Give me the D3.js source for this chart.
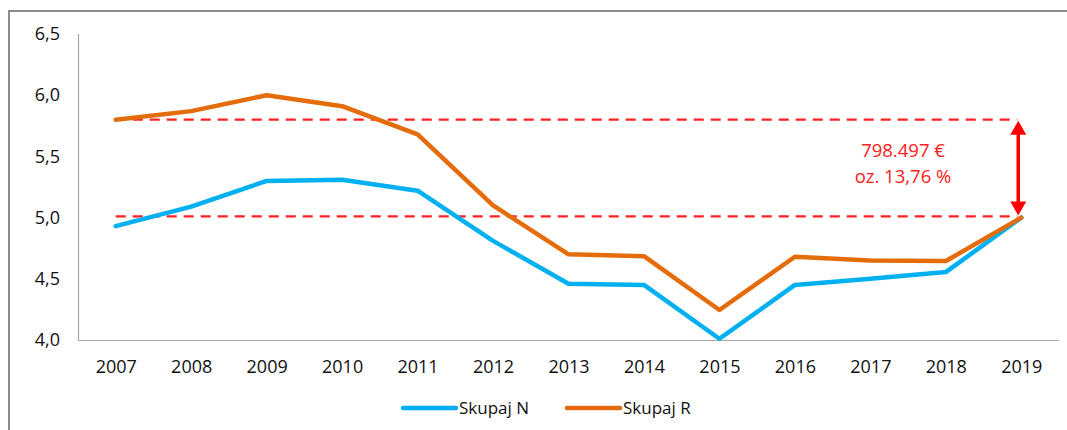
<!DOCTYPE html>
<html>
<head>
<meta charset="utf-8">
<script src="https://cdn.jsdelivr.net/npm/d3@7"></script>
<style>
  body { margin: 0; background: #fff; }
  text { font-family: "Open Sans", "Noto Sans", sans-serif; }
</style>
</head>
<body>
<svg id="chart" width="1067" height="430"></svg>
<script>
"use strict";

/* ── Data ─────────────────────────────────────────── */
const years    = ["2007","2008","2009","2010","2011","2012","2013","2014","2015","2016","2017","2018","2019"];
const skupajN  = [4.93, 5.09, 5.30, 5.31, 5.22, 4.81, 4.46, 4.45, 4.01, 4.45, 4.50, 4.555, 5.00];
const skupajR  = [5.80, 5.87, 6.00, 5.91, 5.68, 5.10, 4.70, 4.685, 4.245, 4.68, 4.65, 4.645, 5.00];
const yTicks   = [4.0, 4.5, 5.0, 5.5, 6.0, 6.5];
const refLines = [5.80, 5.01];
const noteLines = ["798.497 €", "oz. 13,76 %"];

const series = [
  { name: "Skupaj N", values: skupajN, color: "#00b0f0" },
  { name: "Skupaj R", values: skupajR, color: "#e46c0a" },
];

/* ── Layout ───────────────────────────────────────── */
const svg = d3.select("#chart");
const M = { left: 78, right: 1059, top: 34, bottom: 340 };

// outer frame (left + top only visible)
svg.append("path")
  .attr("d", "M9,430 V11 H1067")
  .attr("fill", "none")
  .attr("stroke", "#8c8c8c")
  .attr("stroke-width", 2);

const x = d3.scalePoint().domain(years).range([M.left, M.right]).padding(0.5);
const y = d3.scaleLinear().domain([4, 6.5]).range([M.bottom, M.top]);

/* Axes */
const fmt = (d) => d.toFixed(1).replace(".", ",");

svg.append("g")
  .attr("transform", `translate(0,${M.bottom})`)
  .call(d3.axisBottom(x).tickSize(0).tickPadding(20))
  .call((a) => {
    a.select(".domain").attr("stroke", "#a6a6a6").attr("stroke-width", 1.2)
      .attr("d", `M${M.left},0.5H${M.right}`);
    a.selectAll("text").attr("font-size", 18).attr("fill", "#111")
      .attr("font-family", '"Open Sans", sans-serif');
  });

svg.append("g")
  .attr("transform", `translate(${M.left},0)`)
  .call(d3.axisLeft(y).tickValues(yTicks).tickFormat(fmt).tickSize(0).tickPadding(18))
  .call((a) => {
    a.select(".domain").attr("stroke", "#a6a6a6").attr("stroke-width", 1.2)
      .attr("d", `M0.5,${M.top}V${M.bottom}`);
    a.selectAll("text").attr("font-size", 18).attr("fill", "#111")
      .attr("font-family", '"Open Sans", sans-serif');
  });

/* Reference dashed lines */
const refX0 = x(years[0]);
const refX1 = x(years[years.length - 1]) - 4;
svg.selectAll(".ref")
  .data(refLines)
  .join("line")
  .attr("class", "ref")
  .attr("x1", refX0).attr("x2", refX1)
  .attr("y1", (d) => y(d)).attr("y2", (d) => y(d))
  .attr("stroke", "#ff2020")
  .attr("stroke-width", 2.3)
  .attr("stroke-dasharray", "10,7");

/* Series lines */
const line = d3.line()
  .x((d, i) => x(years[i]))
  .y((d) => y(d));

svg.selectAll(".series")
  .data(series)
  .join("path")
  .attr("class", "series")
  .attr("d", (s) => line(s.values))
  .attr("fill", "none")
  .attr("stroke", (s) => s.color)
  .attr("stroke-width", 4.5)
  .attr("stroke-linejoin", "round")
  .attr("stroke-linecap", "round");

/* Double-headed arrow */
const ax = refX1 + 1;
const yTop = y(refLines[0]) + 1;
const yBot = y(refLines[1]) - 1;
svg.append("line")
  .attr("x1", ax).attr("x2", ax)
  .attr("y1", yTop + 10).attr("y2", yBot - 10)
  .attr("stroke", "#ff0000").attr("stroke-width", 3.5);
svg.append("path")
  .attr("d", `M${ax},${yTop} l-8,14 h16 z M${ax},${yBot} l-8,-14 h16 z`)
  .attr("fill", "#ff0000");

/* Annotation text */
svg.selectAll(".note")
  .data(noteLines)
  .join("text")
  .attr("class", "note")
  .attr("x", 903)
  .attr("y", (d, i) => 157 + i * 26)
  .attr("text-anchor", "middle")
  .attr("font-size", 18.5)
  .attr("fill", "#ff2020")
  .text((d) => d);

/* Legend */
const legend = svg.append("g").attr("transform", "translate(403,408)");
const item = legend.selectAll("g")
  .data(series)
  .join("g")
  .attr("transform", (d, i) => `translate(${i * 164},0)`);
item.append("line")
  .attr("x1", 0).attr("x2", 53)
  .attr("stroke", (d) => d.color)
  .attr("stroke-width", 4.5)
  .attr("stroke-linecap", "round");
item.append("text")
  .attr("x", 56).attr("y", 6)
  .attr("font-size", 17)
  .attr("fill", "#111")
  .text((d) => d.name);
</script>
</body>
</html>
